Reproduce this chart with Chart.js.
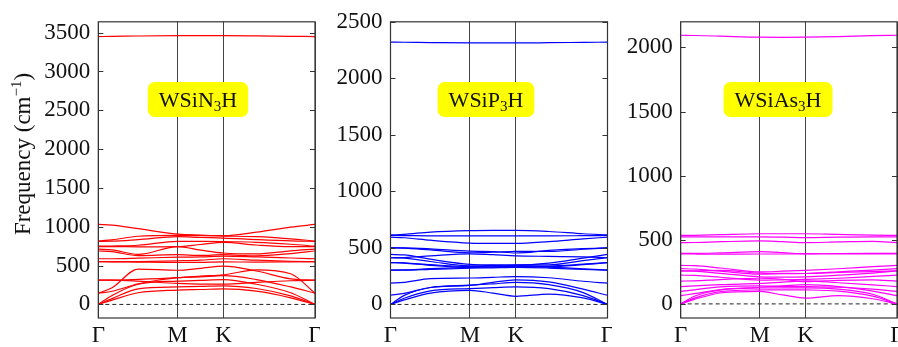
<!DOCTYPE html>
<html>
<head>
<meta charset="utf-8">
<script src="https://cdn.jsdelivr.net/npm/chart.js@4.4.0/dist/chart.umd.min.js"></script>
<style>
  html, body { margin: 0; padding: 0; background: #fff; }
  #wrap { position: relative; width: 898px; height: 347px; overflow: hidden; }
  .panel { position: absolute; top: 0; height: 347px; }
</style>
</head>
<body>
<div id="wrap">
  <div class="panel" style="left:0;width:320px"><canvas id="chartN"></canvas></div>
  <div class="panel" style="left:320px;width:292px"><canvas id="chartP"></canvas></div>
  <div class="panel" style="left:612px;width:286px"><canvas id="chartAs"></canvas></div>
</div>
<script>
// k-path sample points (Γ - M - K - Γ) and high-symmetry labels
var kPath = [0, 0.1, 0.29, 0.577, 0.744, 0.911, 1.15, 1.4, 1.577];
var kTicks = [0, 0.577, 0.911, 1.577];
var kLabels = ["Γ", "M", "K", "Γ"];

// phonon bands, WSiN3H (cm^-1)
var bandsN = [
  [3450, 3452, 3457, 3462, 3463, 3462, 3458, 3453, 3450],
  [1030, 1022, 975, 905, 893, 885, 930, 995, 1030],
  [817, 832, 878, 888, 885, 880, 872, 845, 817],
  [812, 814, 835, 872, 862, 855, 835, 818, 812],
  [750, 752, 762, 812, 812, 810, 800, 775, 750],
  [745, 745, 742, 745, 772, 798, 765, 745, 745],
  [712, 702, 645, 745, 700, 662, 650, 690, 712],
  [688, 680, 628, 640, 632, 640, 625, 655, 688],
  [588, 588, 595, 608, 612, 622, 612, 598, 588],
  [550, 550, 552, 562, 570, 588, 570, 556, 550],
  [550, 549, 545, 540, 542, 548, 545, 548, 550],
  [312, 312, 322, 345, 365, 380, 445, 395, 146],
  [146, 215, 455, 440, 465, 492, 430, 330, 312],
  [146, 170, 265, 345, 355, 370, 320, 225, 146],
  [312, 312, 300, 270, 262, 262, 285, 305, 312],
  [0, 115, 260, 300, 310, 320, 260, 150, 0],
  [0, 75, 200, 225, 232, 240, 205, 110, 0],
  [0, 55, 150, 185, 192, 200, 170, 85, 0]
];

// phonon bands, WSiP3H
var bandsP = [
  [2320, 2319, 2316, 2313, 2313, 2313, 2315, 2318, 2320],
  [615, 620, 640, 653, 655, 655, 645, 625, 615],
  [610, 609, 607, 607, 607, 607, 606, 608, 610],
  [595, 590, 568, 543, 540, 540, 556, 580, 595],
  [500, 500, 492, 471, 468, 455, 478, 494, 500],
  [500, 498, 482, 457, 462, 470, 468, 488, 500],
  [442, 438, 400, 355, 350, 348, 365, 410, 442],
  [413, 415, 430, 448, 440, 430, 425, 420, 413],
  [413, 410, 380, 341, 345, 350, 350, 388, 413],
  [370, 368, 352, 335, 340, 343, 340, 356, 370],
  [370, 365, 346, 330, 333, 336, 334, 352, 370],
  [303, 305, 316, 327, 330, 335, 330, 315, 303],
  [303, 303, 310, 320, 324, 328, 322, 310, 303],
  [188, 195, 228, 234, 240, 246, 236, 205, 188],
  [81, 98, 150, 168, 195, 218, 200, 135, 81],
  [0, 80, 150, 170, 182, 195, 175, 105, 0],
  [0, 55, 120, 140, 148, 155, 140, 78, 0],
  [0, 40, 100, 125, 100, 72, 92, 58, 0]
];

// phonon bands, WSiAs3H
var bandsAs = [
  [2095, 2093, 2088, 2080, 2079, 2080, 2085, 2092, 2095],
  [534, 535, 540, 547, 547, 547, 542, 537, 534],
  [522, 522, 522, 522, 520, 517, 520, 522, 522],
  [478, 479, 485, 491, 485, 478, 483, 488, 478],
  [394, 394, 398, 407, 400, 389, 393, 394, 394],
  [390, 389, 388, 389, 389, 392, 390, 390, 390],
  [300, 298, 280, 249, 255, 262, 274, 290, 300],
  [275, 272, 255, 232, 235, 237, 250, 264, 275],
  [257, 258, 262, 240, 238, 237, 245, 252, 257],
  [257, 255, 238, 211, 208, 211, 224, 240, 257],
  [224, 222, 208, 186, 188, 191, 200, 214, 224],
  [178, 180, 190, 200, 192, 173, 184, 188, 178],
  [135, 140, 150, 160, 170, 180, 165, 148, 135],
  [97, 110, 132, 140, 136, 135, 130, 115, 97],
  [64, 80, 112, 130, 140, 150, 135, 100, 64],
  [0, 60, 110, 124, 125, 125, 115, 75, 0],
  [0, 45, 95, 109, 110, 109, 100, 60, 0],
  [0, 35, 85, 97, 70, 45, 65, 40, 0]
];

// y tick values
var yTicksN = [0, 500, 1000, 1500, 2000, 2500, 3000, 3500];
var yTicksP = [0, 500, 1000, 1500, 2000, 2500];
var yTicksAs = [0, 500, 1000, 1500, 2000];

// compound names: [before subscript, subscript, after]
var nameN = ["WSiN", "3", "H"];
var nameP = ["WSiP", "3", "H"];
var nameAs = ["WSiAs", "3", "H"];

// axis title: [main, superscript, closing]
var yTitle = ["Frequency (cm", "−1", ")"];

var fontFam = "Liberation Serif";

// draws text made of [normal, shifted small, normal] centred on (0, base)
function drawScripted(ctx, parts, bigPx, smallPx, shift) {
  var big = bigPx + "px " + fontFam, small = smallPx + "px " + fontFam;
  ctx.font = big;
  var w1 = ctx.measureText(parts[0]).width, w3 = ctx.measureText(parts[2]).width;
  ctx.font = small;
  var w2 = ctx.measureText(parts[1]).width;
  var x = -(w1 + w2 + w3) / 2;
  ctx.font = big;
  ctx.fillText(parts[0], x, 0);
  ctx.font = small;
  ctx.fillText(parts[1], x + w1, shift);
  ctx.font = big;
  ctx.fillText(parts[2], x + w1 + w2, 0);
  return w1 + w2 + w3;
}

// frame, inward ticks, zero line, axis title and the yellow name box
var framePlugin = {
  id: "frame",
  beforeDatasetsDraw: function (chart) {
    var a = chart.chartArea, y0 = chart.scales.y.getPixelForValue(0);
    var ctx = chart.ctx;
    ctx.save();
    ctx.strokeStyle = "#222";
    ctx.lineWidth = 1;
    ctx.setLineDash([4, 3]);
    ctx.beginPath();
    ctx.moveTo(a.left, y0);
    ctx.lineTo(a.right, y0);
    ctx.stroke();
    ctx.restore();
  },
  afterDraw: function (chart, args, opts) {
    var a = chart.chartArea, ctx = chart.ctx, ys = chart.scales.y;
    ctx.save();
    ctx.strokeStyle = "#333";
    ctx.lineWidth = 1.2;
    ctx.strokeRect(a.left, a.top, a.right - a.left, a.bottom - a.top);
    ctx.lineWidth = 1;
    ys.ticks.forEach(function (t) {
      var py = Math.round(ys.getPixelForValue(t.value)) + 0.5;
      ctx.beginPath();
      ctx.moveTo(a.left, py); ctx.lineTo(a.left + 5, py);
      ctx.moveTo(a.right, py); ctx.lineTo(a.right - 5, py);
      ctx.stroke();
    });

    ctx.fillStyle = "#111";
    ctx.textBaseline = "alphabetic";

    // y axis title
    if (opts.title) {
      ctx.save();
      ctx.translate(30, 154);
      ctx.rotate(-Math.PI / 2);
      drawScripted(ctx, opts.title, 23, 15, -9);
      ctx.restore();
    }

    // name box
    ctx.font = "22px " + fontFam;
    var parts = opts.name;
    var tw = ctx.measureText(parts[0] + parts[2]).width;
    ctx.font = "15px " + fontFam;
    tw += ctx.measureText(parts[1]).width;
    var bw = tw + 22, bh = 35;
    var cx = a.left + opts.fx * (a.right - a.left), cy = opts.cy;
    ctx.fillStyle = "#ffff00";
    ctx.beginPath();
    ctx.roundRect(cx - bw / 2, cy - bh / 2, bw, bh, 7);
    ctx.fill();
    ctx.fillStyle = "#111";
    ctx.translate(cx, cy + 7.5);
    drawScripted(ctx, parts, 22, 15, 4);
    ctx.restore();
  }
};

function makeChart(id, bands, color, yMin, yMax, yTicks, yWidth, padRight, name, fx, title) {
  var ctx = document.getElementById(id).getContext("2d");
  var datasets = bands.map(function (b) {
    return {
      data: kPath.map(function (k, i) { return { x: k, y: b[i] }; }),
      borderColor: color,
      borderWidth: 1.2,
      pointRadius: 0,
      fill: false,
      cubicInterpolationMode: "monotone"
    };
  });
  return new Chart(ctx, {
    type: "line",
    data: { datasets: datasets },
    plugins: [framePlugin],
    options: {
      responsive: true,
      maintainAspectRatio: false,
      animation: false,
      layout: { padding: { top: 15, right: padRight, bottom: 0, left: 0 } },
      plugins: {
        legend: { display: false },
        tooltip: { enabled: false },
        frame: { name: name, fx: fx, cy: 99.5, title: title }
      },
      scales: {
        x: {
          type: "linear",
          min: 0,
          max: 1.577,
          afterBuildTicks: function (s) { s.ticks = kTicks.map(function (v) { return { value: v }; }); },
          afterFit: function (s) { s.height = 29; s.paddingLeft = 0; s.paddingRight = 0; },
          ticks: {
            autoSkip: false,
            maxRotation: 0,
            padding: 4,
            color: "#111",
            font: { family: fontFam, size: 23 },
            callback: function (v) { return kLabels[kTicks.indexOf(v)]; }
          },
          grid: { display: true, color: "#444", lineWidth: 1, drawTicks: false },
          border: { display: false }
        },
        y: {
          min: yMin,
          max: yMax,
          afterBuildTicks: function (s) { s.ticks = yTicks.map(function (v) { return { value: v }; }); },
          afterFit: function (s) { s.width = yWidth; },
          ticks: {
            padding: 8,
            color: "#111",
            font: { family: fontFam, size: 23 },
            callback: function (v) { return String(v); }
          },
          grid: { display: false, drawTicks: false },
          border: { display: false }
        }
      }
    }
  });
}

document.addEventListener("DOMContentLoaded", function () {
  makeChart("chartN", bandsN, "#ff0000", -175, 3640, yTicksN, 98.3, 5, nameN, 0.46, yTitle);
  makeChart("chartP", bandsP, "#0000ff", -120, 2500, yTicksP, 70.5, 4.5, nameP, 0.44, null);
  makeChart("chartAs", bandsAs, "#ff00ff", -110, 2200, yTicksAs, 68.7, 1, nameAs, 0.45, null);
});
</script>
</body>
</html>
